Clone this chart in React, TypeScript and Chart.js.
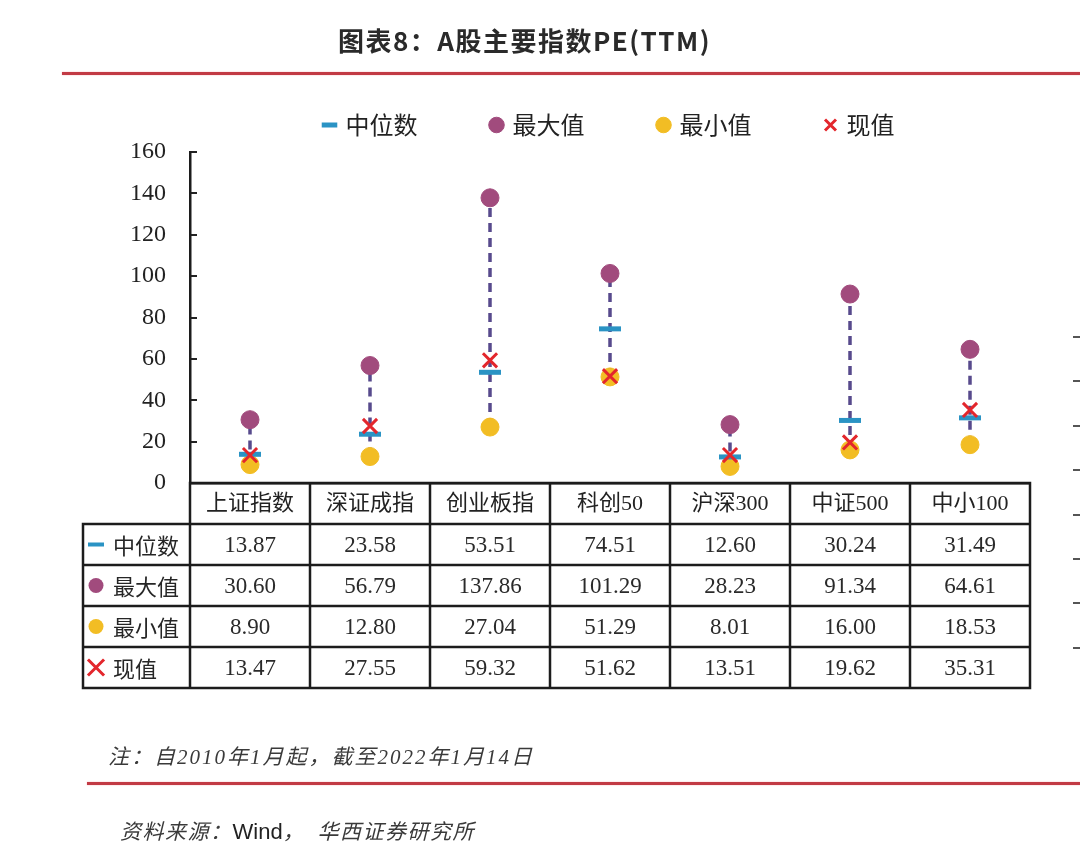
import React, { useEffect, useRef } from 'react';
import { Chart, registerables } from 'chart.js';

Chart.register(...registerables);

// ---------- data ----------
const categories = ['上证指数', '深证成指', '创业板指', '科创50', '沪深300', '中证500', '中小100'];
const medianValues = [13.87, 23.58, 53.51, 74.51, 12.6, 30.24, 31.49];
const maxValues = [30.6, 56.79, 137.86, 101.29, 28.23, 91.34, 64.61];
const minValues = [8.9, 12.8, 27.04, 51.29, 8.01, 16.0, 18.53];
const currentValues = [13.47, 27.55, 59.32, 51.62, 13.51, 19.62, 35.31];
const seriesNames = ['中位数', '最大值', '最小值', '现值'];
const yMin = 0;
const yMax = 160;
const yStep = 20;

const titleText = '图表8：A股主要指数PE(TTM)';
const noteText = '注：自2010年1月起，截至2022年1月14日';

// ---------- styles ----------
const C = {
  median: '#2a93c4',
  max: '#a14b7d',
  min: '#f2bd24',
  current: '#e3262c',
  range: '#574a8c',
  ink: '#222222',
  red: '#c23a44',
};
const CJK = '"Noto Sans CJK SC"';
const SERIF = '"Liberation Serif"';

const ROW_H = 41;
const LEFT_COL_W = 107;

function drawMarker(ctx: CanvasRenderingContext2D, kind: number, cx: number, cy: number) {
  ctx.save();
  if (kind === 0) {
    ctx.fillStyle = C.median;
    ctx.fillRect(cx - 8, cy - 2, 16, 4);
  } else if (kind === 1 || kind === 2) {
    ctx.fillStyle = kind === 1 ? C.max : C.min;
    ctx.beginPath();
    ctx.arc(cx, cy, 7.5, 0, Math.PI * 2);
    ctx.fill();
  } else {
    ctx.strokeStyle = C.current;
    ctx.lineWidth = 3;
    ctx.beginPath();
    ctx.moveTo(cx - 7, cy - 7);
    ctx.lineTo(cx + 7, cy + 7);
    ctx.moveTo(cx + 7, cy - 7);
    ctx.lineTo(cx - 7, cy + 7);
    ctx.stroke();
  }
  ctx.restore();
}

const tablePlugin = {
  id: 'dataTable',
  afterDraw(chart: any) {
    const { ctx, chartArea } = chart;
    const xs = chart.scales.x;
    const n = categories.length;
    const centers = categories.map((_, i) => xs.getPixelForValue(i));
    const bounds = [chartArea.left];
    for (let i = 1; i < n; i++) bounds.push((centers[i - 1] + centers[i]) / 2);
    bounds.push(chartArea.right);
    const top = chartArea.bottom;
    const rows = [medianValues, maxValues, minValues, currentValues];
    const bottom = top + ROW_H * (rows.length + 1);
    const left = chartArea.left - LEFT_COL_W;

    ctx.save();
    ctx.strokeStyle = '#1c1c1c';
    ctx.lineWidth = 2.5;
    ctx.lineCap = 'square';
    ctx.beginPath();
    ctx.moveTo(chartArea.left, top);
    ctx.lineTo(chartArea.right, top);
    for (let r = 1; r <= rows.length + 1; r++) {
      const y = top + r * ROW_H;
      ctx.moveTo(left, y);
      ctx.lineTo(chartArea.right, y);
    }
    bounds.forEach((b) => {
      ctx.moveTo(b, top);
      ctx.lineTo(b, bottom);
    });
    ctx.moveTo(left, top + ROW_H);
    ctx.lineTo(left, bottom);
    ctx.stroke();

    // row headers
    ctx.textBaseline = 'middle';
    ctx.textAlign = 'left';
    ctx.fillStyle = '#262626';
    ctx.font = `22px ${CJK}`;
    seriesNames.forEach((name, r) => {
      const cy = top + ROW_H * (r + 1.5);
      drawMarker(ctx, r, left + 13, cy);
      ctx.fillStyle = '#262626';
      ctx.fillText(name, left + 30, cy + 1);
    });

    // values
    ctx.textAlign = 'center';
    ctx.font = `23px ${SERIF}`;
    ctx.fillStyle = '#2a2a2a';
    rows.forEach((vals, r) => {
      const cy = top + ROW_H * (r + 1.5);
      vals.forEach((v, i) => {
        ctx.fillText(v.toFixed(2), centers[i], cy + 1);
      });
    });
    ctx.restore();
  },
};

export default function App() {
  const ref = useRef<HTMLCanvasElement>(null);

  useEffect(() => {
    if (!ref.current) return;
    const rangeData: { x: string; y: number | null }[] = [];
    categories.forEach((c, i) => {
      rangeData.push({ x: c, y: minValues[i] }, { x: c, y: maxValues[i] }, { x: c, y: null });
    });

    const chart = new Chart(ref.current, {
      type: 'line',
      data: {
        labels: categories,
        datasets: [
          {
            label: seriesNames[0],
            data: medianValues,
            showLine: false,
            pointStyle: 'line',
            pointRadius: 11,
            pointBorderWidth: 5,
            pointBorderColor: C.median,
            pointBackgroundColor: C.median,
            borderColor: C.median,
            backgroundColor: C.median,
            order: 1,
          },
          {
            label: seriesNames[1],
            data: maxValues,
            showLine: false,
            pointStyle: 'circle',
            pointRadius: 9,
            pointBorderWidth: 1,
            pointBorderColor: C.max,
            pointBackgroundColor: C.max,
            borderColor: C.max,
            backgroundColor: C.max,
            order: 2,
          },
          {
            label: seriesNames[2],
            data: minValues,
            showLine: false,
            pointStyle: 'circle',
            pointRadius: 9,
            pointBorderWidth: 1,
            pointBorderColor: C.min,
            pointBackgroundColor: C.min,
            borderColor: C.min,
            backgroundColor: C.min,
            order: 3,
          },
          {
            label: seriesNames[3],
            data: currentValues,
            showLine: false,
            pointStyle: 'crossRot',
            pointRadius: 10,
            pointBorderWidth: 3,
            pointBorderColor: C.current,
            pointBackgroundColor: C.current,
            borderColor: C.current,
            backgroundColor: C.current,
            order: 0,
          },
          {
            label: 'range',
            data: rangeData as any,
            showLine: true,
            spanGaps: false,
            borderColor: C.range,
            borderWidth: 3.5,
            borderDash: [9, 6],
            pointRadius: 0,
            fill: false,
            order: 4,
          },
        ],
      },
      options: {
        responsive: false,
        animation: false,
        events: [],
        layout: { padding: { top: 38, left: 100, right: 50, bottom: 336 } },
        plugins: {
          tooltip: { enabled: false },
          title: { display: false },
          legend: {
            display: true,
            position: 'top',
            fullSize: false,
            labels: {
              usePointStyle: true,
              boxWidth: 8,
              boxHeight: 11,
              padding: 75,
              color: '#222',
              font: { family: CJK, size: 24 },
              filter: (item: any) => item.datasetIndex < 4,
              sort: (a: any, b: any) => a.datasetIndex - b.datasetIndex,
            },
          },
        },
        scales: {
          x: {
            type: 'category',
            position: 'bottom',
            offset: true,
            grid: { display: false, drawTicks: false },
            border: { display: true, color: '#1c1c1c', width: 2.5 },
            ticks: {
              padding: 8,
              color: '#222',
              font: { family: `${SERIF}, ${CJK}`, size: 22 },
              maxRotation: 0,
              autoSkip: false,
            },
            afterFit: (s: any) => {
              s.height = ROW_H;
            },
          },
          xSpacer: {
            type: 'category',
            position: 'top',
            display: true,
            grid: { display: false, drawTicks: false },
            border: { display: false },
            ticks: { display: false },
            afterFit: (s: any) => {
              s.height = 5;
            },
          },
          y: {
            type: 'linear',
            min: yMin,
            max: yMax,
            position: 'left',
            ticks: {
              stepSize: yStep,
              padding: 31,
              color: '#222',
              font: { family: SERIF, size: 24 },
            },
            grid: {
              display: true,
              drawOnChartArea: false,
              drawTicks: true,
              tickLength: -7,
              color: '#222',
              lineWidth: 2,
            },
            border: { display: true, color: '#1c1c1c', width: 2.5 },
            afterFit: (s: any) => {
              s.width = 90;
            },
          },
        },
      } as any,
      plugins: [tablePlugin],
    });

    return () => chart.destroy();
  }, []);

  const fragTicks = [0, 1, 2, 3, 4, 5, 6, 7];

  return (
    <div style={{ position: 'absolute', left: 0, top: 0, width: 1080, height: 860, background: '#fff', overflow: 'hidden' }}>
      <canvas ref={ref} width={1080} height={860} style={{ position: 'absolute', left: 0, top: 0, width: 1080, height: 860 }} />
      <div
        style={{
          position: 'absolute',
          left: 0,
          top: 24,
          width: 1049,
          textAlign: 'center',
          fontFamily: CJK,
          fontWeight: 700,
          fontSize: 26,
          letterSpacing: 1.5,
          color: '#2a2a2a',
          lineHeight: '32px',
        }}
      >
        {titleText}
      </div>
      <div style={{ position: 'absolute', left: 62, top: 72, width: 1018, height: 3, background: C.red, boxShadow: '0 0 1.5px #f2a0a6' }} />
      <div
        style={{
          position: 'absolute',
          left: 108,
          top: 745,
          fontFamily: `${SERIF}, ${CJK}`,
          fontStyle: 'italic',
          fontSize: 21,
          letterSpacing: 2,
          color: '#3a3a3a',
          lineHeight: '24px',
          whiteSpace: 'nowrap',
        }}
      >
        {noteText}
      </div>
      <div style={{ position: 'absolute', left: 87, top: 782, width: 993, height: 3, background: C.red, boxShadow: '0 0 1.5px #f2a0a6' }} />
      <div
        style={{
          position: 'absolute',
          left: 120,
          top: 818,
          fontFamily: CJK,
          fontStyle: 'italic',
          fontSize: 21,
          letterSpacing: 1.5,
          color: '#3a3a3a',
          lineHeight: '24px',
          whiteSpace: 'nowrap',
        }}
      >
        资料来源：
        <span style={{ fontFamily: '"Liberation Sans"', fontStyle: 'normal', fontSize: 22, letterSpacing: 0, color: '#222' }}>Wind</span>
        ，&nbsp;&nbsp;华西证券研究所
      </div>
      {fragTicks.map((k) => (
        <div key={k} style={{ position: 'absolute', left: 1073, top: 336 + k * 44.4, width: 7, height: 2, background: '#555' }} />
      ))}
    </div>
  );
}
